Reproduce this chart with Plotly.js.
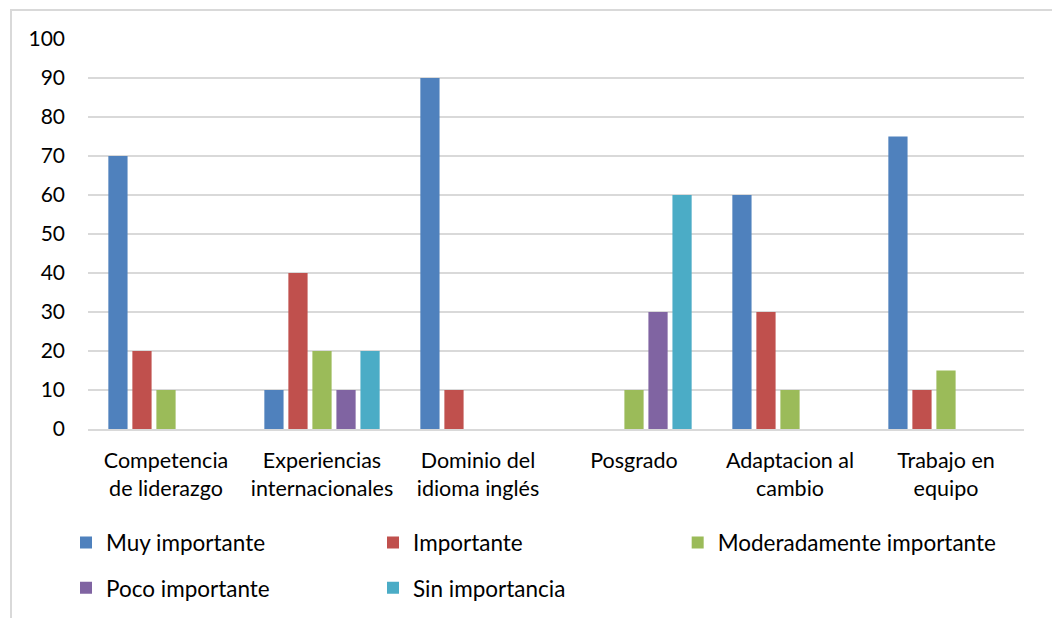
<!DOCTYPE html>
<html>
<head>
<meta charset="utf-8">
<script src="https://cdn.plot.ly/plotly-3.0.1.min.js"></script>
<style>
  html, body { margin: 0; padding: 0; background: #fff; }
  #wrap { position: relative; width: 1052px; height: 618px; overflow: hidden; }
  #chart { width: 1052px; height: 618px; }
  #frame { position: absolute; left: 10px; top: 9px; width: 1100px; height: 700px;
           border: 2px solid #d9d9d9; box-sizing: border-box; pointer-events: none; }
</style>
</head>
<body>
<div id="wrap">
  <div id="chart"></div>
  <div id="frame"></div>
</div>
<script>
const categories = [
  "Competencia<br>de liderazgo",
  "Experiencias<br>internacionales",
  "Dominio del<br>idioma inglés",
  "Posgrado",
  "Adaptacion al<br>cambio",
  "Trabajo en<br>equipo"
];
const seriesNames = ["Muy importante", "Importante", "Moderadamente importante", "Poco importante", "Sin importancia"];
const muyImportante = [70, 10, 90, 0, 60, 75];
const importante = [20, 40, 10, 0, 30, 10];
const moderadamente = [10, 20, 0, 10, 10, 15];
const pocoImportante = [0, 10, 0, 30, 0, 0];
const sinImportancia = [0, 20, 0, 60, 0, 0];
const yTicks = [0, 10, 20, 30, 40, 50, 60, 70, 80, 90, 100];

const values = [muyImportante, importante, moderadamente, pocoImportante, sinImportancia];
const colors = ["#4F81BD", "#C0504D", "#9BBB59", "#8064A2", "#4BACC6"];
const legends = ["legend", "legend", "legend3", "legend2", "legend2"];

const FONT = "Lato, 'Open Sans', sans-serif";

const traces = values.map((v, i) => ({
  type: "bar",
  name: seriesNames[i],
  x: categories,
  y: v,
  marker: { color: colors[i] },
  legend: legends[i],
  hoverinfo: "x+y+name"
}));

const legendCommon = {
  orientation: "h",
  xanchor: "left",
  yanchor: "middle",
  entrywidth: 262,
  entrywidthmode: "pixels",
  font: { family: FONT, size: 22.5, color: "#000" },
  bgcolor: "rgba(0,0,0,0)",
  itemclick: false,
  itemdoubleclick: false
};

const layout = {
  width: 1052,
  height: 618,
  margin: { l: 88, r: 28, t: 39, b: 189, autoexpand: false },
  paper_bgcolor: "#fff",
  plot_bgcolor: "#fff",
  bargap: 0.23,
  bargroupgap: 0.2,
  barmode: "group",
  font: { family: FONT, size: 21, color: "#000" },
  xaxis: {
    type: "category",
    showgrid: false,
    showline: true,
    linecolor: "#d9d9d9",
    linewidth: 1.5,
    ticks: "",
    ticklabelstandoff: 11,
    tickfont: { family: FONT, size: 21.5, color: "#000" },
    fixedrange: true
  },
  yaxis: {
    range: [0, 100],
    tickvals: yTicks,
    ticktext: yTicks.map(String),
    showgrid: true,
    gridcolor: "#d9d9d9",
    gridwidth: 1.5,
    zeroline: false,
    showline: false,
    ticks: "",
    ticklabelstandoff: 22,
    tickfont: { family: FONT, size: 21, color: "#000" },
    fixedrange: true
  },
  legend: Object.assign({}, legendCommon, { x: -0.0235, y: -0.292 }),
  legend2: Object.assign({}, legendCommon, { x: -0.0235, y: -0.408 }),
  legend3: Object.assign({}, legendCommon, { x: 0.630, y: -0.292, entrywidth: 300 }),
  showlegend: true
};

Plotly.newPlot("chart", traces, layout, { displayModeBar: false, staticPlot: false });
</script>
</body>
</html>
